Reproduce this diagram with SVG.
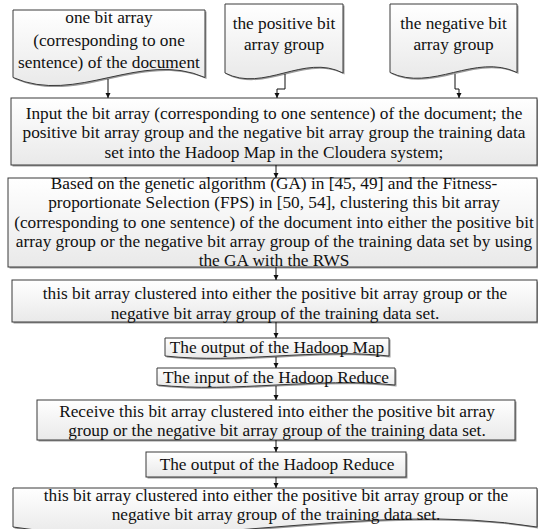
<svg xmlns="http://www.w3.org/2000/svg" width="538" height="529" viewBox="0 0 538 529">
<style>
.shape{fill:url(#g);stroke:#3a3a3a;stroke-width:1}
.shadow{fill:#9a9a9a;stroke:none}
text{font-family:"Liberation Serif","Times New Roman",serif;font-size:17.3px;fill:#111;text-anchor:middle}
.conn{fill:none;stroke:#111;stroke-width:1;marker-end:url(#ah)}
</style>
<defs>
<linearGradient id="g" x1="0" y1="0" x2="0" y2="1">
<stop offset="0" stop-color="#ffffff"/>
<stop offset="1" stop-color="#e9e9e9"/>
</linearGradient>
<marker id="ah" markerWidth="6" markerHeight="6" refX="5" refY="3" orient="auto" markerUnits="userSpaceOnUse">
<path d="M0,0.5 L5,3 L0,5.5 Z" fill="#111"/>
</marker>
</defs>

<g id="doc1">
<path class="shadow" transform="translate(1.5,1.5)" d="M13,10 H205 V77.5 C141.4,49.5 76.4,105.5 13,77.5 Z"/>
<path class="shape" d="M13,10 H205 V77.5 C141.4,49.5 76.4,105.5 13,77.5 Z"/>
<text x="109" y="22.5">one bit array</text>
<text x="109" y="45.5">(corresponding to one</text>
<text x="109" y="67.5">sentence) of the document</text>
</g>

<g id="doc2">
<path class="shadow" transform="translate(1.5,1.5)" d="M225,4 H343 V73 C304,53 264,93 225,73 Z"/>
<path class="shape" d="M225,4 H343 V73 C304,53 264,93 225,73 Z"/>
<text x="284" y="29">the positive bit</text>
<text x="284" y="50">array group</text>
</g>

<g id="doc3">
<path class="shadow" transform="translate(1.5,1.5)" d="M390,4 H517 V72.5 C475,52.5 432,92.5 390,72.5 Z"/>
<path class="shape" d="M390,4 H517 V72.5 C475,52.5 432,92.5 390,72.5 Z"/>
<text x="453.5" y="29">the negative bit</text>
<text x="453.5" y="50">array group</text>
</g>

<g id="box1">
<rect class="shadow" x="12.5" y="99.5" width="526" height="67"/>
<rect class="shape" x="11" y="98" width="526" height="67"/>
<text x="274" y="118.5">Input the bit array (corresponding to one sentence) of the document; the</text>
<text x="274" y="138">positive bit array group and the negative bit array group the training data</text>
<text x="274" y="157.5">set into the Hadoop Map in the Cloudera system;</text>
</g>

<g id="box2">
<rect class="shadow" x="9.5" y="179.5" width="529" height="89"/>
<rect class="shape" x="8" y="178" width="529" height="89"/>
<text x="274" y="188.5">Based on the genetic algorithm (GA) in [45, 49] and the Fitness-</text>
<text x="274" y="208">proportionate Selection (FPS) in [50, 54], clustering this bit array</text>
<text x="274" y="227.5">(corresponding to one sentence) of the document into either the positive bit</text>
<text x="274" y="247">array group or the negative bit array group of the training data set by using</text>
<text x="274" y="265.5">the GA with the RWS</text>
</g>

<g id="box3">
<rect class="shadow" x="13.5" y="281.5" width="525" height="42"/>
<rect class="shape" x="12" y="280" width="525" height="42"/>
<text x="275" y="298.5">this bit array clustered into either the positive bit array group or the</text>
<text x="275" y="318.5">negative bit array group of the training data set.</text>
</g>

<g id="box4">
<path class="shadow" transform="translate(1.5,1.5)" d="M165,338 H389 V356 C315,348 239,364 165,356 Z"/>
<path class="shape" d="M165,338 H389 V356 C315,348 239,364 165,356 Z"/>
<text x="277" y="352.5">The output of the Hadoop Map</text>
</g>

<g id="box5">
<path class="shadow" transform="translate(1.5,1.5)" d="M157,368 H395 V385 C316,377 236,393 157,385 Z"/>
<path class="shape" d="M157,368 H395 V385 C316,377 236,393 157,385 Z"/>
<text x="276" y="382.5">The input of the Hadoop Reduce</text>
</g>

<g id="box6">
<rect class="shadow" x="38.5" y="401.5" width="478" height="40"/>
<rect class="shape" x="37" y="400" width="478" height="40"/>
<text x="277" y="416.5">Receive this bit array clustered into either the positive bit array</text>
<text x="277" y="435.5">group or the negative bit array group of the training data set.</text>
</g>

<g id="box7">
<rect class="shadow" x="147.5" y="453.5" width="260" height="25"/>
<rect class="shape" x="146" y="452" width="260" height="25"/>
<text x="277" y="469.5">The output of the Hadoop Reduce</text>
</g>

<g id="box8">
<path class="shadow" transform="translate(1.5,1.5)" d="M13,488 H537 V527 C364,499 186,555 13,527 Z"/>
<path class="shape" d="M13,488 H537 V527 C364,499 186,555 13,527 Z"/>
<text x="276" y="500.5">this bit array clustered into either the positive bit array group or the</text>
<text x="276" y="519.5">negative bit array group of the training data set.</text>
</g>

<g id="connectors">
<path class="conn" d="M108,79 V98"/>
<path class="conn" d="M285,74 V89 H277 V98"/>
<path class="conn" d="M455,74 V89 H459 V98"/>
<path class="conn" d="M276,165 V178"/>
<path class="conn" d="M276,267 V280"/>
<path class="conn" d="M276,322 V338"/>
<path class="conn" d="M276,357 V368"/>
<path class="conn" d="M276,386 V400"/>
<path class="conn" d="M276,440 V452"/>
<path class="conn" d="M276,477 V488"/>
</g>
</svg>
